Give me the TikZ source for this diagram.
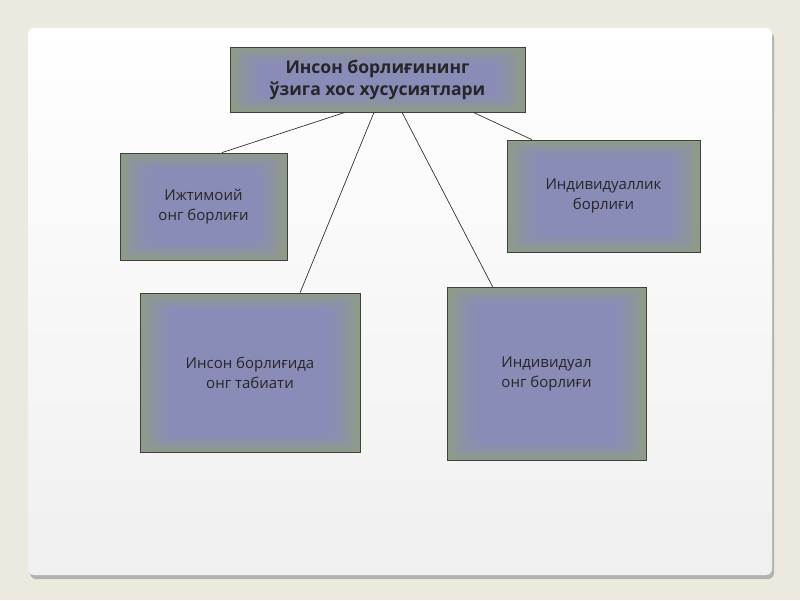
\documentclass[tikz,border=0pt]{standalone}
\usepackage{fontspec}
\setmainfont{Open Sans}
\usetikzlibrary{calc,backgrounds}
\pgfdeclarelayer{bottom}
\pgfsetlayers{bottom,background,main}
\definecolor{bg}{HTML}{ECE9DF}
\definecolor{boxg}{HTML}{8E9B8B}
\definecolor{glow}{HTML}{8A86D8}
\tikzset{
  box/.style={draw=black!75,line width=0.8pt,align=center,font=\fontsize{15}{20}\selectfont,text=black!85,inner sep=0pt},
  link/.style={draw=black!80,line width=0.7pt}
}
\begin{document}
\begin{tikzpicture}[x=1pt,y=-1pt]
\useasboundingbox (0,0) rectangle (800,600);
\begin{pgfonlayer}{bottom}
\fill[bg] (0,0) rectangle (800,600);
\fill[black!30,rounded corners=6pt] (30,32) rectangle (774,579);
\shade[top color=white,bottom color=black!6,rounded corners=6pt] (28,28) rectangle (772,575);
\end{pgfonlayer}
\node[box,minimum width=295pt,minimum height=65pt,font=\bfseries\fontsize{17.5}{22}\selectfont] (top) at (377.5,79.5) {Инсон борлиғининг\\ ўзига хос хусусиятлари};
\node[box,minimum width=167pt,minimum height=107pt] (l1) at (203.5,206.5) {Ижтимоий\\ онг борлиғи};
\node[box,minimum width=193pt,minimum height=112pt] (r1) at (603.5,196) {Индивидуаллик\\ борлиғи};
\node[box,minimum width=220pt,minimum height=159pt] (l2) at (250,372.5) {Инсон борлиғида\\ онг табиати};
\node[box,minimum width=199pt,minimum height=173pt] (r2) at (546.5,373.5) {Индивидуал\\ онг борлиғи};
\begin{scope}[on background layer]
\foreach \n in {top,l1,r1,l2,r2}{
  \fill[boxg] (\n.south west) rectangle (\n.north east);
  \foreach \i in {6,10,...,30}{
    \fill[glow,opacity=0.13,rounded corners=8pt] ($(\n.south west)+(\i,-\i*0.6)$) rectangle ($(\n.north east)+(-\i,\i*0.6)$);
  }
}
\end{scope}
\draw[link] ($(top.south west)!0.39!(top.south east)$) -- ($(l1.north west)!0.61!(l1.north east)$);
\draw[link] ($(top.south west)!0.488!(top.south east)$) -- ($(l2.north west)!0.727!(l2.north east)$);
\draw[link] ($(top.south west)!0.583!(top.south east)$) -- ($(r2.north west)!0.23!(r2.north east)$);
\draw[link] ($(top.south west)!0.824!(top.south east)$) -- ($(r1.north west)!0.13!(r1.north east)$);
\end{tikzpicture}
\end{document}
